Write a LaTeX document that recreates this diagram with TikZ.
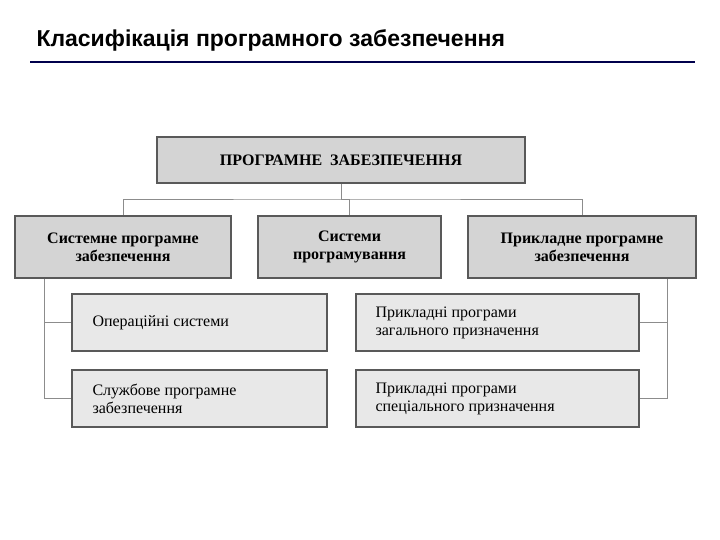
\documentclass[tikz,border=0pt]{standalone}
\usepackage{fontspec}
\setmainfont{Liberation Serif}
\newfontfamily\titlefont{Liberation Sans}
\begin{document}
\begin{tikzpicture}[x=1pt,y=-1pt,
  boxa/.style={draw=black!65,line width=1.6pt,fill=black!17,inner sep=0pt,align=center,font=\fontsize{16}{18}\selectfont\bfseries},
  boxb/.style={draw=black!65,line width=1.6pt,fill=black!9,inner sep=0pt,font=\fontsize{16}{18}\selectfont},
  conn/.style={draw=black!45,line width=0.8pt}]
\useasboundingbox (0,0) rectangle (720,540);
\node[anchor=west,font=\titlefont\bfseries\fontsize{23}{26}\selectfont] (title) at (33,40) {Класифікація програмного забезпечення};
\draw[line width=2pt,color=blue!30!black] (30,62) -- (695,62);
\node[boxa,minimum width=368,minimum height=46] (top) at (341,160) {ПРОГРАМНЕ\ \ ЗАБЕЗПЕЧЕННЯ};
\node[boxa,minimum width=216,minimum height=62] (l) at (123,247) {Системне програмне\\забезпечення};
\node[boxa,minimum width=183,minimum height=62] (m) at (349.5,247) {Системи\\програмування};
\node[boxa,minimum width=228,minimum height=62] (r) at (582,247) {Прикладне програмне\\забезпечення};
\node[boxb,minimum width=255,minimum height=57] (l1) at (199.5,322.5) {};
\node[anchor=west,font=\fontsize{16}{18}\selectfont] (l1t) at (89,322.5) {Операційні системи};
\node[boxb,minimum width=255,minimum height=57] (l2) at (199.5,398.5) {};
\node[anchor=west,align=left,font=\fontsize{16}{18}\selectfont] (l2t) at (89,398.5) {Службове програмне\\забезпечення};
\node[boxb,minimum width=283,minimum height=57] (r1) at (497.5,322.5) {};
\node[anchor=west,align=left,font=\fontsize{16}{18}\selectfont] (r1t) at (372,322.5) {Прикладні програми\\загального призначення};
\node[boxb,minimum width=283,minimum height=57] (r2) at (497.5,398.5) {};
\node[anchor=west,align=left,font=\fontsize{16}{18}\selectfont] (r2t) at (372,398.5) {Прикладні програми\\спеціального призначення};
\coordinate (j) at (341,199);
\draw[conn] (top.south) -- (j);
\draw[conn] (l.north) |- (j) -| (r.north);
\draw[conn] (j) -| (m.north);
\draw[conn] ([xshift=-79]l.south) |- (l2.west);
\draw[conn] ([xshift=-79]l.south) |- (l1.west);
\draw[conn] ([xshift=85]r.south) |- (r2.east);
\draw[conn] ([xshift=85]r.south) |- (r1.east);
\end{tikzpicture}
\end{document}
